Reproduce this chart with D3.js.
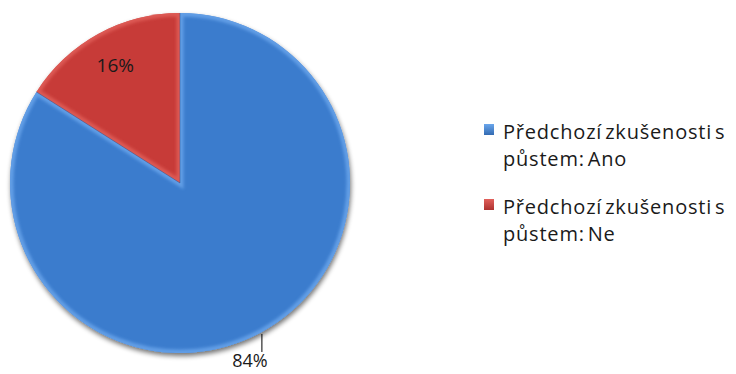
<!DOCTYPE html>
<html>
<head>
<meta charset="utf-8">
<script src="https://cdn.jsdelivr.net/npm/d3@7"></script>
<style>
  html, body { margin: 0; padding: 0; background: #ffffff; }
  svg { display: block; }
</style>
</head>
<body>
<svg id="chart" width="736" height="374"></svg>
<script>
// Survey answers: previous experience with fasting
const categories = ["Předchozí zkušenosti s půstem: Ano", "Předchozí zkušenosti s půstem: Ne"];
const legendLines = [["Předchozí zkušenosti s", "půstem: Ano"], ["Předchozí zkušenosti s", "půstem: Ne"]];
const values = [84, 16];
const valueLabels = ["84%", "16%"];
const colors = ["#3b7bcd", "#c73a37"];
const edgeColors = ["#6aa6ec", "#e2605b"];

const svg = d3.select("#chart");
const cx = 180, cy = 183, R = 170;

const defs = svg.append("defs");
const shadow = defs.append("filter").attr("id", "shadow")
  .attr("x", "-20%").attr("y", "-20%").attr("width", "140%").attr("height", "140%");
shadow.append("feGaussianBlur").attr("in", "SourceAlpha").attr("stdDeviation", 2.5).attr("result", "b");
shadow.append("feOffset").attr("in", "b").attr("dx", 1).attr("dy", 3).attr("result", "o");
shadow.append("feComponentTransfer").attr("in", "o").attr("result", "s")
  .append("feFuncA").attr("type", "linear").attr("slope", 0.55);
const merge = shadow.append("feMerge");
merge.append("feMergeNode").attr("in", "s");
merge.append("feMergeNode").attr("in", "SourceGraphic");

const soft = defs.append("filter").attr("id", "soft");
soft.append("feGaussianBlur").attr("stdDeviation", 1.6);

const pie = d3.pie().sort(null).value(d => d);
const arcs = pie(values);
const arc = d3.arc().innerRadius(0).outerRadius(R);

const g = svg.append("g").attr("transform", `translate(${cx},${cy})`);

// slices with drop shadow
g.append("g").attr("filter", "url(#shadow)")
  .selectAll("path").data(arcs).join("path")
  .attr("d", arc)
  .attr("fill", (d, i) => colors[i]);

// soft bevel highlight along the rim and edges
const clipId = (i) => "clip" + i;
arcs.forEach((d, i) => {
  defs.append("clipPath").attr("id", clipId(i))
    .append("path").attr("d", arc(d));
});
const bevel = g.append("g");
arcs.forEach((d, i) => {
  bevel.append("path")
    .attr("d", arc(d))
    .attr("fill", "none")
    .attr("stroke", edgeColors[i])
    .attr("stroke-width", 7)
    .attr("stroke-opacity", 0.8)
    .attr("filter", "url(#soft)")
    .attr("clip-path", `url(#${clipId(i)})`);
});
// thin divider lines between slices
g.selectAll("line.div").data(arcs).join("line")
  .attr("class", "div")
  .attr("x1", 0).attr("y1", 0)
  .attr("x2", d => R * Math.sin(d.startAngle))
  .attr("y2", d => -R * Math.cos(d.startAngle))
  .attr("stroke", "#2a5a9c").attr("stroke-width", 1).attr("stroke-opacity", 0.5);

// value labels
const labelFont = "'Open Sans', sans-serif";
// 16% inside its slice
const small = arcs[1];
const midS = (small.startAngle + small.endAngle) / 2;
g.append("text")
  .attr("x", 0.79 * R * Math.sin(midS))
  .attr("y", -0.79 * R * Math.cos(midS))
  .attr("text-anchor", "middle").attr("dominant-baseline", "central")
  .attr("font-family", labelFont).attr("font-size", 19).attr("fill", "#1a1a1a")
  .text(valueLabels[1]);

// 84% outside with a leader line
const big = arcs[0];
const midB = (big.startAngle + big.endAngle) / 2;
const lx = R * Math.sin(midB), ly = -R * Math.cos(midB);
g.append("line")
  .attr("x1", lx).attr("y1", ly + 2)
  .attr("x2", lx).attr("y2", ly + 20)
  .attr("stroke", "#000").attr("stroke-width", 1);
g.append("text")
  .attr("x", lx - 12).attr("y", ly + 35)
  .attr("text-anchor", "middle")
  .attr("font-family", labelFont).attr("font-size", 18).attr("fill", "#1a1a1a")
  .text(valueLabels[0]);

// legend
const legend = svg.append("g");
const legendY = [139, 214];
const markerGrad = colors.map((c, i) => {
  const gr = defs.append("linearGradient").attr("id", "mk" + i)
    .attr("x1", 0).attr("y1", 0).attr("x2", 0).attr("y2", 1);
  gr.append("stop").attr("offset", "0%").attr("stop-color", edgeColors[i]);
  gr.append("stop").attr("offset", "100%").attr("stop-color", d3.color(c).darker(0.4));
  return "url(#mk" + i + ")";
});
legendLines.forEach((lines, i) => {
  const y = legendY[i];
  legend.append("rect")
    .attr("x", 484).attr("y", y - 15).attr("width", 10).attr("height", 11)
    .attr("fill", markerGrad[i]);
  lines.forEach((line, j) => {
    legend.append("text")
      .attr("font-family", "'Open Sans', sans-serif").attr("font-size", 20)
      .attr("letter-spacing", 0.8)
      .attr("word-spacing", -3)
      .attr("fill", "#1a1a1a")
      .attr("x", 503).attr("y", y + j * 27).text(line);
  });
});
</script>
</body>
</html>
